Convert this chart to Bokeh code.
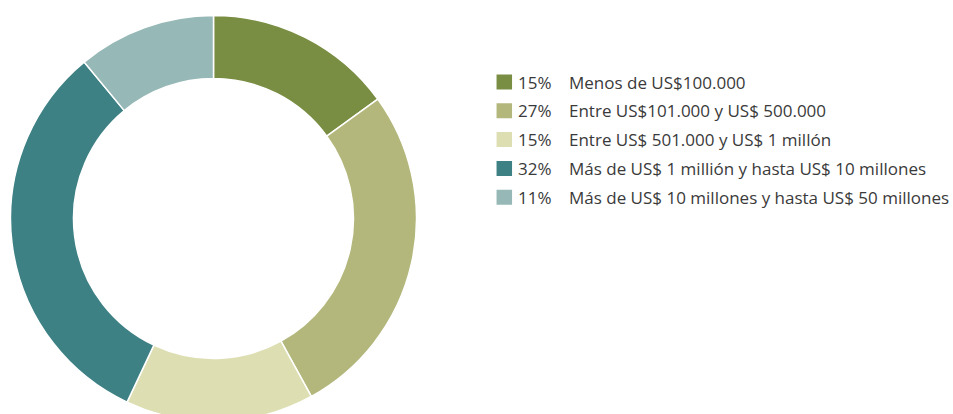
import math
from bokeh.plotting import figure
from bokeh.models import Range1d, ColumnDataSource
from bokeh.core.properties import value
from bokeh.embed import file_html
from bokeh.resources import INLINE

# Data
shares = [15, 27, 15, 32, 11]
pct_labels = ["15%", "27%", "15%", "32%", "11%"]
categories = [
    "Menos de US$100.000",
    "Entre US$101.000 y US$ 500.000",
    "Entre US$ 501.000 y US$ 1 millón",
    "Más de US$ 1 millión y hasta US$ 10 millones",
    "Más de US$ 10 millones y hasta US$ 50 millones",
]
colors = ["#7a8e43", "#b3b77b", "#dddfb3", "#3e8185", "#96b8b6"]

W, H = 953, 414
p = figure(width=W, height=H, output_backend="svg", toolbar_location=None,
           x_range=Range1d(0, W), y_range=Range1d(0, H),
           min_border=0, min_border_left=0, min_border_right=0,
           min_border_top=0, min_border_bottom=0)
p.axis.visible = False
p.grid.visible = False
p.outline_line_color = None
p.background_fill_color = "white"
p.border_fill_color = "white"

total = sum(shares)
starts, ends = [], []
cum = 0
for s in shares:
    starts.append(math.pi / 2 - 2 * math.pi * cum / total)
    cum += s
    ends.append(math.pi / 2 - 2 * math.pi * cum / total)

cx, cy = 213, H - 218
src = ColumnDataSource(dict(start=starts, end=ends, color=colors))
p.annular_wedge(x=cx, y=cy, inner_radius=140, outer_radius=203,
                inner_radius_units="screen", outer_radius_units="screen",
                start_angle="start", end_angle="end", direction="clock",
                fill_color="color", line_color="white", line_width=1.5, source=src)

# Legend
row_y = [H - (81.5 + i * 28.8) for i in range(len(categories))]
leg = ColumnDataSource(dict(y=row_y, color=colors, pct=pct_labels, cat=categories))
p.rect(x=503.8, y="y", width=15.5, height=15, width_units="screen",
       height_units="screen", fill_color="color", line_color=None, source=leg)
p.text(x=517.5, y="y", text="pct", text_font=value("Open Sans"),
       text_font_size="17px", text_color="#3a3a3a", text_baseline="middle",
       source=leg)
p.text(x=568.5, y="y", text="cat", text_font=value("Open Sans"),
       text_font_size="17px", text_color="#3a3a3a", text_baseline="middle",
       source=leg)

open("out.html", "w").write(file_html(p, INLINE))
